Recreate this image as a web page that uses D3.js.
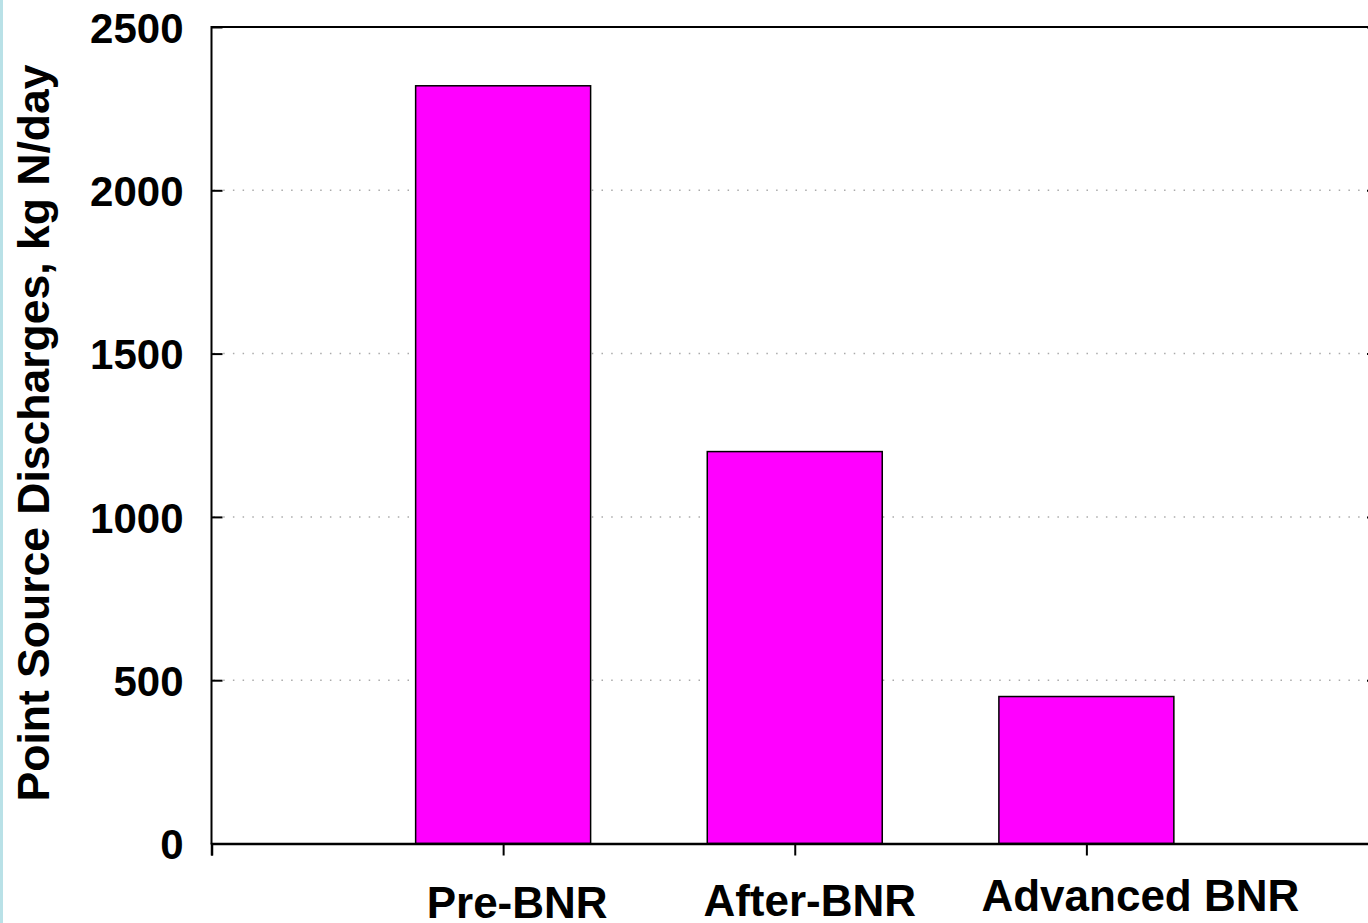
<!DOCTYPE html>
<html>
<head>
<meta charset="utf-8">
<script src="https://cdn.jsdelivr.net/npm/d3@7/dist/d3.min.js"></script>
<style>
  html, body { margin: 0; padding: 0; background: #fff; }
  svg { display: block; }
  text { font-family: "Liberation Sans", Arial, sans-serif; font-weight: bold; fill: #000; }
</style>
</head>
<body>
<svg id="chart" width="1368" height="923"></svg>
<script>
const categories = ["Pre-BNR", "After-BNR", "Advanced BNR"];
const values = [2320, 1200, 450];
const yTicks = [0, 500, 1000, 1500, 2000, 2500];
const yTitle = "Point Source Discharges, kg N/day";

(function () {
const W = 1368, H = 923;
const svg = d3.select("#chart");

// left light-blue strip
svg.append("rect").attr("x", 0).attr("y", 0).attr("width", 3).attr("height", H).attr("fill", "#b9e1e7");

const pLeft = 211.5, pRight = 1378, pTop = 27, pBottom = 843.5;
const x = d3.scaleLinear().domain([0, categories.length + 1]).range([pLeft, pRight]);
const y = d3.scaleLinear().domain([0, 2500]).range([pBottom, pTop]);

// gridlines
svg.append("g").selectAll("line").data(yTicks.filter(d => d > 0 && d < 2500)).join("line")
  .attr("x1", pLeft + 2).attr("x2", pRight)
  .attr("y1", d => y(d)).attr("y2", d => y(d))
  .attr("stroke", "#aaa").attr("stroke-width", 1.5).attr("stroke-dasharray", "1.5,8.2");

// bars
const bw = x(0.6) - x(0);
svg.append("g").selectAll("rect").data(values).join("rect")
  .attr("x", (d, i) => x(i + 1) - bw / 2)
  .attr("width", bw)
  .attr("y", d => y(d))
  .attr("height", d => y(0) - y(d))
  .attr("fill", "#ff00ff").attr("stroke", "#000").attr("stroke-width", 1.5);

// left axis (inward ticks)
const yAxis = svg.append("g").attr("transform", `translate(${pLeft},0)`)
  .call(d3.axisLeft(y).tickValues(yTicks).tickSize(-11).tickPadding(28).tickFormat(d3.format("d")));
yAxis.select(".domain").remove();
yAxis.selectAll(".tick line").attr("stroke", "#000").attr("stroke-width", 2);
yAxis.selectAll(".tick text").attr("font-size", 42).attr("font-family", "Liberation Sans, Arial, sans-serif")
  .attr("font-weight", "bold").attr("fill", "#000").attr("dy", "0.36em");

// right axis ticks (inward)
const yAxisR = svg.append("g").attr("transform", `translate(${pRight},0)`)
  .call(d3.axisRight(y).tickValues(yTicks).tickSize(-11).tickFormat(""));
yAxisR.select(".domain").remove();
yAxisR.selectAll(".tick line").attr("stroke", "#000").attr("stroke-width", 2);

// frame: left and top lines
svg.append("line").attr("x1", pLeft).attr("x2", pLeft).attr("y1", pTop - 1).attr("y2", pBottom + 1)
  .attr("stroke", "#000").attr("stroke-width", 2);
svg.append("line").attr("x1", pLeft).attr("x2", pRight).attr("y1", pTop).attr("y2", pTop)
  .attr("stroke", "#000").attr("stroke-width", 2);

// bottom axis
const xAxis = svg.append("g").attr("transform", `translate(0,${pBottom})`)
  .call(d3.axisBottom(x).tickValues(d3.range(0, categories.length + 2)).tickSize(12).tickFormat(""));
xAxis.select(".domain").attr("stroke", "#000").attr("stroke-width", 2.5);
xAxis.selectAll(".tick line").attr("stroke", "#000").attr("stroke-width", 2);

// category labels
const labelShift = [{dx: 14, y: 918}, {dx: 15, y: 916}, {dx: 54, y: 911}];
svg.append("g").selectAll("text").data(categories).join("text")
  .attr("x", (d, i) => x(i + 1) + labelShift[i].dx)
  .attr("y", (d, i) => labelShift[i].y)
  .attr("text-anchor", "middle").attr("font-size", 44)
  .text(d => d);

// y title
svg.append("text")
  .attr("transform", `translate(49,433) rotate(-90)`)
  .attr("text-anchor", "middle").attr("font-size", 44.5)
  .text(yTitle);
})();
</script>
</body>
</html>
